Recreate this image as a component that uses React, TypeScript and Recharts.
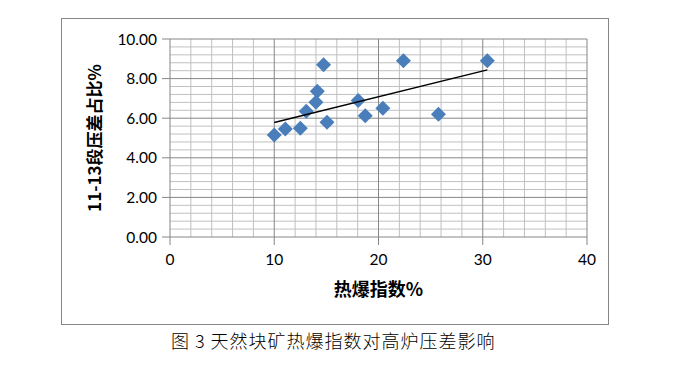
import React from "react";
import {
  ScatterChart,
  Scatter,
  XAxis,
  YAxis,
  ReferenceLine,
  Label,
} from "recharts";

// 热爆指数% vs 11-13段压差占比%
const points = [
  { x: 10.0, y: 5.15 },
  { x: 11.06, y: 5.46 },
  { x: 12.5, y: 5.49 },
  { x: 13.07, y: 6.35 },
  { x: 14.0, y: 6.81 },
  { x: 14.13, y: 7.36 },
  { x: 14.73, y: 8.7 },
  { x: 15.06, y: 5.79 },
  { x: 18.05, y: 6.89 },
  { x: 18.73, y: 6.13 },
  { x: 20.42, y: 6.5 },
  { x: 22.39, y: 8.9 },
  { x: 25.75, y: 6.2 },
  { x: 30.44, y: 8.9 },
];

// linear trend line, end points
const trendLine = [
  { x: 10.0, y: 5.78 },
  { x: 30.44, y: 8.44 },
];

const xTicks = [0, 10, 20, 30, 40];
const yTicks = [0, 2, 4, 6, 8, 10];
const xMinor = [2, 4, 6, 8, 12, 14, 16, 18, 22, 24, 26, 28, 32, 34, 36, 38];
const yMinor = [
  0.4, 0.8, 1.2, 1.6, 2.4, 2.8, 3.2, 3.6, 4.4, 4.8, 5.2, 5.6,
  6.4, 6.8, 7.2, 7.6, 8.4, 8.8, 9.2, 9.6,
];

const xTitle = "热爆指数%";
const yTitle = "11-13段压差占比%";
const caption = "图 3 天然块矿热爆指数对高炉压差影响";

const BLUE = "#4A7EBB";
const AXIS = "#868686";
const MINOR = "#c0c0c0";
const tickFont = { fontSize: 15.5, fill: "#000", fontFamily: "Lato, 'Open Sans', sans-serif" };
const titleFont = "'Noto Sans CJK SC', sans-serif";

const Diamond = (props: any) => {
  const { cx, cy } = props;
  const r = 7.5;
  return (
    <polygon
      points={`${cx},${cy - r} ${cx + r},${cy} ${cx},${cy + r} ${cx - r},${cy}`}
      fill={BLUE}
    />
  );
};

const App: React.FC = () => {
  return (
    <div
      style={{
        position: "absolute",
        left: 0,
        top: 0,
        width: 687,
        height: 372,
        background: "#fff",
      }}
    >
      <div
        style={{
          position: "absolute",
          left: 61,
          top: 18,
          width: 546,
          height: 305,
          border: `1.5px solid ${AXIS}`,
        }}
      />
      <div style={{ position: "absolute", left: 0, top: 0 }}>
        <ScatterChart
          width={687}
          height={372}
          margin={{ top: 39, right: 100, bottom: 65, left: 0 }}
        >
          <XAxis
            type="number"
            dataKey="x"
            domain={[0, 40]}
            ticks={xTicks}
            height={70}
            tickSize={8}
            tickMargin={9}
            stroke={AXIS}
            tick={tickFont}
            allowDataOverflow
          >
            <Label
              value={xTitle}
              position="center"
              dy={18}
              style={{ fontSize: 18, fontWeight: 700, fill: "#000", fontFamily: titleFont }}
            />
          </XAxis>
          <YAxis
            type="number"
            dataKey="y"
            domain={[0, 10]}
            ticks={yTicks}
            width={170}
            tickSize={8}
            tickMargin={5}
            stroke={AXIS}
            tick={tickFont}
            tickFormatter={(v: number) => v.toFixed(2)}
            allowDataOverflow
          >
            <Label
              value={yTitle}
              position="center"
              angle={-90}
              dx={10}
              style={{ fontSize: 17, fontWeight: 700, fill: "#000", fontFamily: titleFont }}
            />
          </YAxis>

          {/* grid: minor lines first, major lines on top */}
          {xMinor.map((v) => (
            <ReferenceLine key={`xm${v}`} x={v} stroke={MINOR} strokeWidth={1} />
          ))}
          {yMinor.map((v) => (
            <ReferenceLine key={`ym${v}`} y={v} stroke={MINOR} strokeWidth={1} />
          ))}
          {xTicks.slice(1).map((v) => (
            <ReferenceLine key={`xM${v}`} x={v} stroke={AXIS} strokeWidth={1} />
          ))}
          {yTicks.slice(1).map((v) => (
            <ReferenceLine key={`yM${v}`} y={v} stroke={AXIS} strokeWidth={1} />
          ))}

          <Scatter
            data={points}
            shape={<Diamond />}
            isAnimationActive={false}
          />
          <Scatter
            data={trendLine}
            line={{ stroke: "#000", strokeWidth: 1.5 }}
            shape={() => null}
            isAnimationActive={false}
          />
        </ScatterChart>
      </div>
      <div
        style={{
          position: "absolute",
          left: 171,
          top: 328,
          fontSize: 18,
          lineHeight: "24px",
          letterSpacing: 1,
          fontFamily: titleFont,
          fontWeight: 300,
          color: "#000",
          whiteSpace: "nowrap",
        }}
      >
        {caption}
      </div>
    </div>
  );
};

export default App;
